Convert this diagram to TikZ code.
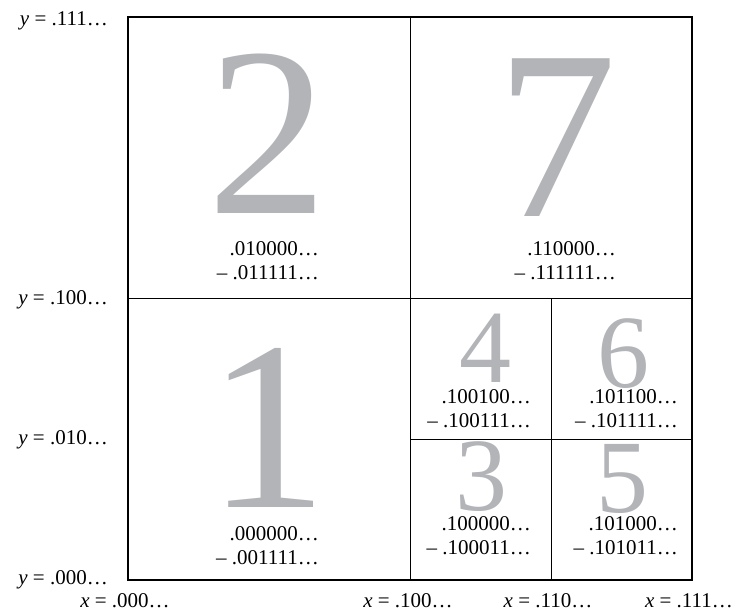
\documentclass[tikz,border=0pt]{standalone}
\usepackage{fontspec}
\setmainfont{Liberation Serif}
\definecolor{digitgray}{HTML}{B2B4B8}
\begin{document}
\begin{tikzpicture}[x=1pt,y=-1pt,
  bigdigit/.style={text=digitgray,inner sep=0pt,anchor=base,text height=0.68em,text depth=0pt,font=\fontsize{241}{241}\selectfont},
  smalldigit/.style={text=digitgray,inner sep=0pt,anchor=base,text height=0.68em,text depth=0pt,font=\fontsize{104}{104}\selectfont},
  rangeline/.style={anchor=base east,inner sep=0pt,text height=0.7em,text depth=0.1em,font=\fontsize{21}{24}\selectfont},
  axislabel/.style={inner sep=0pt,anchor=base,text height=0.7em,text depth=0.2em,font=\fontsize{21}{24}\selectfont},
  outer/.style={draw,line width=1.4pt},
  inner/.style={draw,line width=0.8pt}]
\useasboundingbox (0,0) rectangle (738,613);
% grid
\coordinate (tl) at (128,17);
\coordinate (br) at (692,580);
\draw[inner] (410,17) -- (410,580);
\draw[inner] (128,298) -- (692,298);
\draw[inner] (551,298) -- (551,580);
\draw[inner] (410,439) -- (692,439);
\draw[outer] (tl) rectangle (br);
% big digits
\node[bigdigit] (d2) at (268,213) {2};
\node[bigdigit] (d7) at (557,216) {7};
\node[bigdigit] (d1) at (268,507) {1};
\node[smalldigit] (d4) at (485,382) {4};
\node[smalldigit] (d6) at (623,387) {6};
\node[smalldigit] (d3) at (481,510) {3};
\node[smalldigit] (d5) at (622,512) {5};
% range labels
\node[rangeline] (r2a) at (319,255) {.010000…};
\node[rangeline] (r2b) at (319,279) {– .011111…};
\node[rangeline] (r7a) at (616,255) {.110000…};
\node[rangeline] (r7b) at (616,279) {– .111111…};
\node[rangeline] (r1a) at (319,540) {.000000…};
\node[rangeline] (r1b) at (319,564) {– .001111…};
\node[rangeline] (r4a) at (531,403) {.100100…};
\node[rangeline] (r4b) at (531,427) {– .100111…};
\node[rangeline] (r6a) at (678,403) {.101100…};
\node[rangeline] (r6b) at (678,427) {– .101111…};
\node[rangeline] (r3a) at (531,530) {.100000…};
\node[rangeline] (r3b) at (531,554) {– .100011…};
\node[rangeline] (r5a) at (678,530) {.101000…};
\node[rangeline] (r5b) at (678,554) {– .101011…};
% axis labels
\node[axislabel,anchor=base east] (y3) at (108,25) {\textit{y} = .111…};
\node[axislabel,anchor=base east] (y2) at (108,304) {\textit{y} = .100…};
\node[axislabel,anchor=base east] (y1) at (108,444) {\textit{y} = .010…};
\node[axislabel,anchor=base east] (y0) at (108,584) {\textit{y} = .000…};
\node[axislabel] (x0) at (125,607) {\textit{x} = .000…};
\node[axislabel] (x1) at (408,607) {\textit{x} = .100…};
\node[axislabel] (x2) at (548,607) {\textit{x} = .110…};
\node[axislabel] (x3) at (689,607) {\textit{x} = .111…};
\end{tikzpicture}
\end{document}
